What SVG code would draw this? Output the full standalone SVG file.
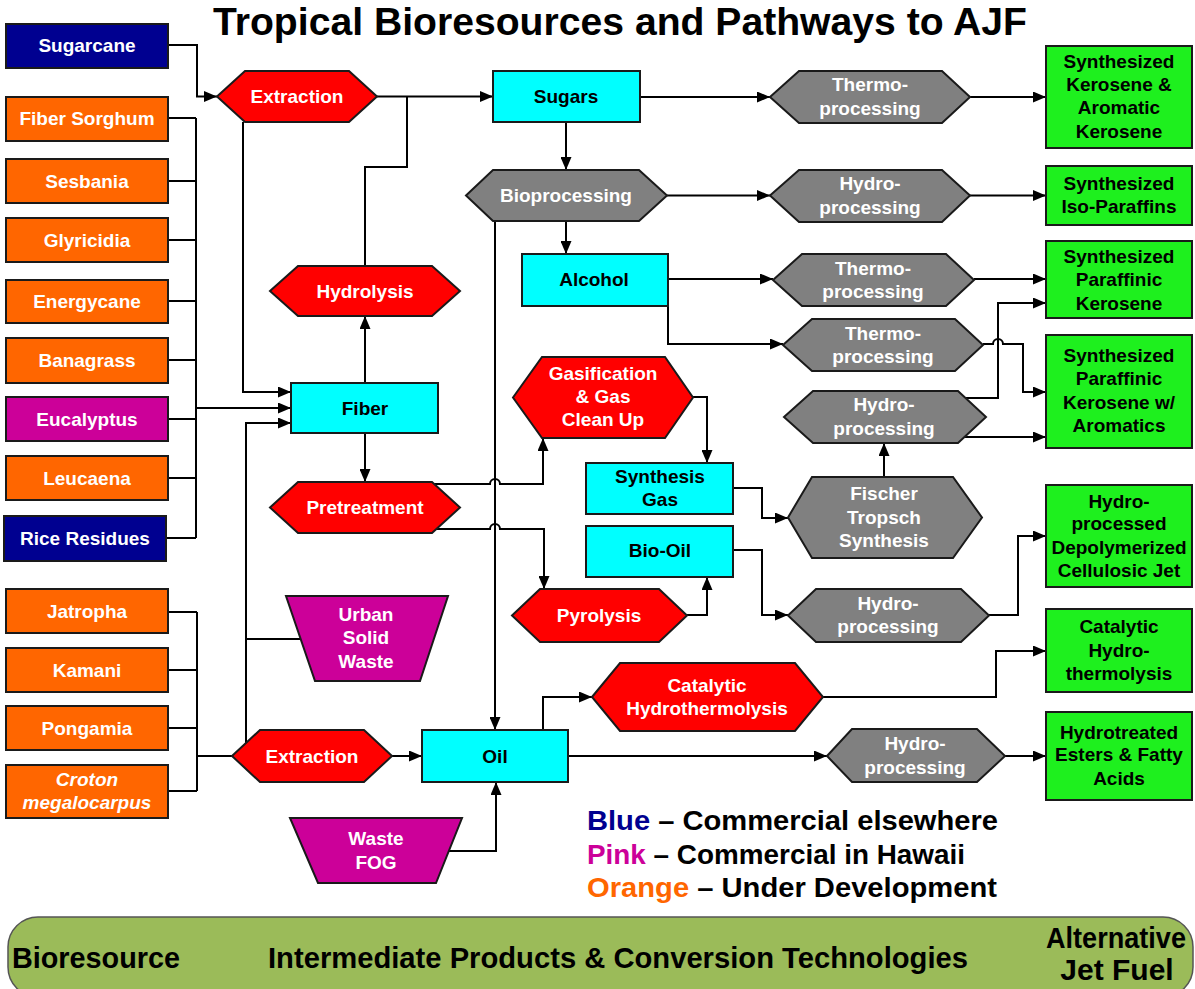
<svg xmlns="http://www.w3.org/2000/svg" width="1195" height="989" viewBox="0 0 1195 989">
<style>
.n{stroke:#1a1a1a;stroke-width:2}
.blue{fill:#000090}.orange{fill:#FF6600}.pink{fill:#CC0099}.red{fill:#FF0000}.cyan{fill:#00FFFF}.gray{fill:#808080}.green{fill:#1EF01E}
.t{font-family:"Liberation Sans",Arial,sans-serif;font-weight:bold;font-size:19px;text-anchor:middle}
.w{fill:#ffffff}.k{fill:#000000}
.c{fill:none;stroke:#000;stroke-width:2}
.a{marker-end:url(#arr)}
.big{font-family:"Liberation Sans",Arial,sans-serif;font-weight:bold}
</style>
<defs>
<marker id="arr" markerUnits="userSpaceOnUse" markerWidth="13" markerHeight="11" refX="13" refY="5.5" orient="auto">
<path d="M0,0 L13,5.5 L0,11 Z" fill="#000"/>
</marker>
</defs>
<rect width="1195" height="989" fill="#fff"/>
<text class="big" x="620" y="35" font-size="38" text-anchor="middle" textLength="814" lengthAdjust="spacingAndGlyphs">Tropical Bioresources and Pathways to AJF</text>

<g id="connectors">
<path class="c a" d="M168,45 H197 V96.5 H217"/>
<path class="c" d="M168,118 H196 M168,181 H196 M168,240 H196 M168,301 H196 M168,360 H196 M168,419 H196 M168,478 H196 M166,538 H196 M196,118 V538"/>
<path class="c a" d="M196,408 H291"/>
<path class="c a" d="M243,122 V392 H291"/>
<path class="c a" d="M377,96.5 H493"/>
<path class="c" d="M365,266 V167 H407 V96.5"/>
<path class="c a" d="M365,383 V316"/>
<path class="c a" d="M365,433 V482"/>
<path class="c a" d="M246,743 V423 H291"/>
<path class="c" d="M300,639 H246"/>
<path class="c" d="M168,612 H197 M168,670 H197 M168,728 H197 M168,791 H197 M197,612 V791 M197,756 H232"/>
<path class="c a" d="M392,756 H422"/>
<path class="c a" d="M449,851 H496 V782"/>
<path class="c a" d="M495,221 V730"/>
<path class="c a" d="M434,484 H490 a5,5 0 0 1 10,0 H543 V438"/>
<path class="c a" d="M436,529 H490 a5,5 0 0 1 10,0 H544 V589"/>
<path class="c a" d="M693,397 H707 V463"/>
<path class="c a" d="M687,615 H707 V577"/>
<path class="c a" d="M733,488 H762 V518 H788"/>
<path class="c a" d="M733,550 H762 V615 H788"/>
<path class="c a" d="M884,477 V443"/>
<path class="c a" d="M989,615 H1018 V536 H1046"/>
<path class="c a" d="M543,730 V697 H592"/>
<path class="c a" d="M823,697 H996 V651 H1046"/>
<path class="c a" d="M568,756 H827"/>
<path class="c a" d="M1005,756 H1046"/>
<path class="c a" d="M640,97 H770"/>
<path class="c a" d="M970,97 H1046"/>
<path class="c a" d="M566,122 V170"/>
<path class="c a" d="M667,195.5 H770"/>
<path class="c a" d="M970,195.5 H1046"/>
<path class="c a" d="M566,221 V254"/>
<path class="c a" d="M668,279 H773"/>
<path class="c a" d="M974,279 H1046"/>
<path class="c a" d="M668,306 V344 H783"/>
<path class="c a" d="M983,344 H993 a5,5 0 0 1 10,0 H1023 V392 H1046"/>
<path class="c a" d="M965,398 H998 V303 H1046"/>
<path class="c a" d="M964,437 H1046"/>
</g>

<g id="sugarcane"><rect class="n blue" x="6" y="24" width="162" height="44"/><text class="t w" x="87" y="52">Sugarcane</text></g>
<g id="fiber-sorghum"><rect class="n orange" x="6" y="97" width="162" height="44"/><text class="t w" x="87" y="125">Fiber Sorghum</text></g>
<g id="sesbania"><rect class="n orange" x="6" y="159" width="162" height="44"/><text class="t w" x="87" y="188">Sesbania</text></g>
<g id="glyricidia"><rect class="n orange" x="6" y="218" width="162" height="44"/><text class="t w" x="87" y="247">Glyricidia</text></g>
<g id="energycane"><rect class="n orange" x="6" y="280" width="162" height="43"/><text class="t w" x="87" y="308">Energycane</text></g>
<g id="banagrass"><rect class="n orange" x="6" y="338" width="162" height="45"/><text class="t w" x="87" y="367">Banagrass</text></g>
<g id="eucalyptus"><rect class="n pink" x="6" y="397" width="162" height="44"/><text class="t w" x="87" y="426">Eucalyptus</text></g>
<g id="leucaena"><rect class="n orange" x="6" y="456" width="162" height="44"/><text class="t w" x="87" y="485">Leucaena</text></g>
<g id="rice-residues"><rect class="n blue" x="4" y="516" width="162" height="45"/><text class="t w" x="85" y="545">Rice Residues</text></g>
<g id="jatropha"><rect class="n orange" x="6" y="589" width="162" height="44"/><text class="t w" x="87" y="618">Jatropha</text></g>
<g id="kamani"><rect class="n orange" x="6" y="648" width="162" height="44"/><text class="t w" x="87" y="677">Kamani</text></g>
<g id="pongamia"><rect class="n orange" x="6" y="706" width="162" height="44"/><text class="t w" x="87" y="735">Pongamia</text></g>
<g id="croton"><rect class="n orange" x="6" y="765" width="162" height="53"/><text class="t w" x="87" y="786" font-style="italic">Croton</text><text class="t w" x="87" y="809" font-style="italic">megalocarpus</text></g>

<g id="extraction-top"><polygon class="n red" points="217,96.5 245,71 349,71 377,96.5 349,122 245,122"/><text class="t w" x="297" y="103">Extraction</text></g>
<g id="hydrolysis"><polygon class="n red" points="270,291 298,266 432,266 460,291 432,316 298,316"/><text class="t w" x="365" y="298">Hydrolysis</text></g>
<g id="fiber"><rect class="n cyan" x="291" y="383" width="147" height="50"/><text class="t k" x="365" y="415">Fiber</text></g>
<g id="pretreatment"><polygon class="n red" points="270,507.5 298,482 432,482 460,507.5 432,533 298,533"/><text class="t w" x="365" y="514">Pretreatment</text></g>
<g id="urban-solid-waste"><polygon class="n pink" points="286,596 448,596 420,681 315,681"/><text class="t w" x="366" y="621">Urban</text><text class="t w" x="366" y="644">Solid</text><text class="t w" x="366" y="668">Waste</text></g>
<g id="extraction-bottom"><polygon class="n red" points="232,756 260,730 364,730 392,756 364,782 260,782"/><text class="t w" x="312" y="763">Extraction</text></g>
<g id="waste-fog"><polygon class="n pink" points="290,818 462,818 436,883 318,883"/><text class="t w" x="376" y="845">Waste</text><text class="t w" x="376" y="869">FOG</text></g>

<g id="sugars"><rect class="n cyan" x="493" y="71" width="147" height="51"/><text class="t k" x="566" y="103">Sugars</text></g>
<g id="bioprocessing"><polygon class="n gray" points="466,195.5 493,170 639,170 667,195.5 639,221 493,221"/><text class="t w" x="566" y="202">Bioprocessing</text></g>
<g id="alcohol"><rect class="n cyan" x="522" y="254" width="146" height="52"/><text class="t k" x="594" y="286">Alcohol</text></g>
<g id="gasification"><polygon class="n red" points="513,397.5 542,357 665,357 693,397.5 665,438 542,438"/><text class="t w" x="603" y="380">Gasification</text><text class="t w" x="603" y="403">&amp; Gas</text><text class="t w" x="603" y="426">Clean Up</text></g>
<g id="synthesis-gas"><rect class="n cyan" x="586" y="463" width="147" height="51"/><text class="t k" x="660" y="483">Synthesis</text><text class="t k" x="660" y="506">Gas</text></g>
<g id="bio-oil"><rect class="n cyan" x="586" y="526" width="147" height="51"/><text class="t k" x="660" y="557">Bio-Oil</text></g>
<g id="pyrolysis"><polygon class="n red" points="512,615.5 540,589 659,589 687,615.5 659,642 540,642"/><text class="t w" x="599" y="622">Pyrolysis</text></g>
<g id="oil"><rect class="n cyan" x="422" y="730" width="146" height="52"/><text class="t k" x="495" y="763">Oil</text></g>
<g id="catalytic-hydrothermolysis"><polygon class="n red" points="592,697 620,663 795,663 823,697 795,731 620,731"/><text class="t w" x="707" y="692">Catalytic</text><text class="t w" x="707" y="715">Hydrothermolysis</text></g>

<g id="thermo-1"><polygon class="n gray" points="770,97 799,71 942,71 970,97 942,123 799,123"/><text class="t w" x="870" y="91">Thermo-</text><text class="t w" x="870" y="115">processing</text></g>
<g id="hydro-2"><polygon class="n gray" points="770,195.5 799,170 942,170 970,195.5 942,222 799,222"/><text class="t w" x="870" y="190">Hydro-</text><text class="t w" x="870" y="214">processing</text></g>
<g id="thermo-3"><polygon class="n gray" points="773,280 802,254 946,254 974,280 946,306 802,306"/><text class="t w" x="873" y="275">Thermo-</text><text class="t w" x="873" y="298">processing</text></g>
<g id="thermo-4"><polygon class="n gray" points="783,345 812,319 955,319 983,345 955,371 812,371"/><text class="t w" x="883" y="340">Thermo-</text><text class="t w" x="883" y="363">processing</text></g>
<g id="hydro-5"><polygon class="n gray" points="784,417 813,391 958,391 986,417 958,443 813,443"/><text class="t w" x="884" y="411">Hydro-</text><text class="t w" x="884" y="435">processing</text></g>
<g id="fischer-tropsch"><polygon class="n gray" points="788,517.5 812,477 953,477 982,517.5 953,558 812,558"/><text class="t w" x="884" y="500">Fischer</text><text class="t w" x="884" y="524">Tropsch</text><text class="t w" x="884" y="547">Synthesis</text></g>
<g id="hydro-6"><polygon class="n gray" points="788,615.5 816,589 961,589 989,615.5 961,642 816,642"/><text class="t w" x="888" y="610">Hydro-</text><text class="t w" x="888" y="633">processing</text></g>
<g id="hydro-7"><polygon class="n gray" points="827,756 852,729 977,729 1005,756 977,782 852,782"/><text class="t w" x="915" y="750">Hydro-</text><text class="t w" x="915" y="774">processing</text></g>

<g id="g-ska"><rect class="n green" x="1046" y="46" width="146" height="102"/><text class="t k" x="1119" y="68">Synthesized</text><text class="t k" x="1119" y="91">Kerosene &amp;</text><text class="t k" x="1119" y="114">Aromatic</text><text class="t k" x="1119" y="138">Kerosene</text></g>
<g id="g-sip"><rect class="n green" x="1046" y="166" width="146" height="59"/><text class="t k" x="1119" y="190">Synthesized</text><text class="t k" x="1119" y="213">Iso-Paraffins</text></g>
<g id="g-spk"><rect class="n green" x="1046" y="241" width="146" height="77"/><text class="t k" x="1119" y="263">Synthesized</text><text class="t k" x="1119" y="286">Paraffinic</text><text class="t k" x="1119" y="310">Kerosene</text></g>
<g id="g-spka"><rect class="n green" x="1046" y="335" width="146" height="113"/><text class="t k" x="1119" y="362">Synthesized</text><text class="t k" x="1119" y="385">Paraffinic</text><text class="t k" x="1119" y="409">Kerosene w/</text><text class="t k" x="1119" y="432">Aromatics</text></g>
<g id="g-hdcj"><rect class="n green" x="1046" y="485" width="146" height="102"/><text class="t k" x="1119" y="508">Hydro-</text><text class="t k" x="1119" y="530">processed</text><text class="t k" x="1119" y="554">Depolymerized</text><text class="t k" x="1119" y="577">Cellulosic Jet</text></g>
<g id="g-ch"><rect class="n green" x="1046" y="609" width="146" height="83"/><text class="t k" x="1119" y="633">Catalytic</text><text class="t k" x="1119" y="657">Hydro-</text><text class="t k" x="1119" y="680">thermolysis</text></g>
<g id="g-hefa"><rect class="n green" x="1046" y="712" width="146" height="88"/><text class="t k" x="1119" y="739">Hydrotreated</text><text class="t k" x="1119" y="761">Esters &amp; Fatty</text><text class="t k" x="1119" y="785">Acids</text></g>

<g id="legend" class="big" font-size="28">
<text x="587" y="830" textLength="411" lengthAdjust="spacingAndGlyphs"><tspan fill="#000090">Blue</tspan><tspan fill="#000"> – Commercial elsewhere</tspan></text>
<text x="587" y="864" textLength="378" lengthAdjust="spacingAndGlyphs"><tspan fill="#CC0099">Pink</tspan><tspan fill="#000"> – Commercial in Hawaii</tspan></text>
<text x="587" y="897" textLength="410" lengthAdjust="spacingAndGlyphs"><tspan fill="#FF6600">Orange</tspan><tspan fill="#000"> – Under Development</tspan></text>
</g>

<g id="bar">
<rect x="8" y="917" width="1185" height="80" rx="30" ry="30" fill="#9BBB59" stroke="#555" stroke-width="1.5"/>
<text class="big" x="12" y="968" font-size="30" textLength="168" lengthAdjust="spacingAndGlyphs">Bioresource</text>
<text class="big" x="268" y="968" font-size="30" textLength="700" lengthAdjust="spacingAndGlyphs">Intermediate Products &amp; Conversion Technologies</text>
<text class="big" x="1046" y="948" font-size="29" textLength="140" lengthAdjust="spacingAndGlyphs">Alternative</text>
<text class="big" x="1117" y="980" font-size="30" text-anchor="middle">Jet Fuel</text>
</g>
</svg>
